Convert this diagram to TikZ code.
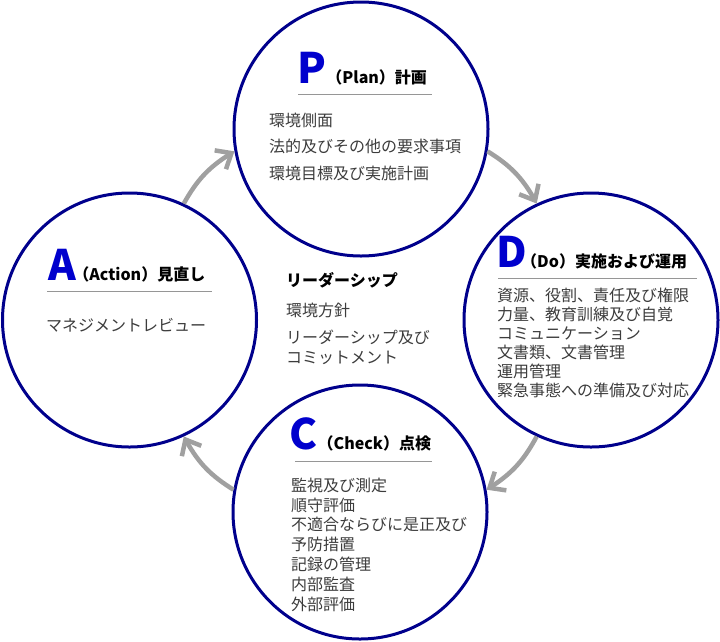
\documentclass[tikz,border=0pt]{standalone}
\usepackage{fontspec}
\setmainfont{Noto Sans CJK JP}
\usetikzlibrary{arrows.meta,bending,positioning}
\definecolor{pdcaNavy}{RGB}{0,0,140}
\definecolor{pdcaBlue}{RGB}{0,0,205}
\definecolor{pdcaText}{RGB}{60,60,60}
\definecolor{pdcaRule}{RGB}{150,150,150}
\definecolor{pdcaArrow}{RGB}{160,160,160}
\tikzset{
	phase/.style={circle,draw=pdcaNavy,line width=3pt,minimum size=254pt,inner sep=0pt},
	bigletter/.style={font=\fontsize{42}{42}\selectfont\bfseries,text=pdcaBlue,inner sep=0pt,anchor=base west},
	phasetitle/.style={font=\fontsize{16}{16}\selectfont\bfseries,inner sep=0pt,anchor=base west},
	itemlist/.style={font=\fontsize{16}{#1}\selectfont,text=pdcaText,align=left,inner sep=0pt,anchor=base west},
	titlerule/.style={draw=pdcaRule,line width=1pt},
	cyclearrow/.style={draw=pdcaArrow,line width=4.5pt,-{Straight Barb[length=13pt,width=22pt,flex]}}
}
\begin{document}
\begin{tikzpicture}[x=1pt,y=-1pt]
	\useasboundingbox (0,0) rectangle (720,641);
	
	\node[phase] (P) at (361,129) {};
	\node[phase] (D) at (591,320) {};
	\node[phase] (C) at (360,512) {};
	\node[phase] (A) at (129.5,320) {};
	
	% P (base = last line)
	\node[bigletter] (Pl) at (297,83) {P};
	\node[phasetitle,right=0pt of Pl.base east,anchor=base west] (Pt) {（Plan）計画};
	\draw[titlerule] (298,94) -- (432,94);
	\node[itemlist=26.5] (Pb) at (269,179) {環境側面\\法的及びその他の要求事項\\環境目標及び実施計画};
	
	% D
	\node[bigletter] (Dl) at (496,267) {D};
	\node[phasetitle,right=-6pt of Dl.base east,anchor=base west] (Dt) {（Do）実施および運用};
	\draw[titlerule] (498,278) -- (697,278);
	\node[itemlist=19] (Db) at (497,396) {資源、役割、責任及び権限\\力量、教育訓練及び自覚\\コミュニケーション\\文書類、文書管理\\運用管理\\緊急事態への準備及び対応};
	
	% C
	\node[bigletter] (Cl) at (289,449) {C};
	\node[phasetitle,right=0pt of Cl.base east,anchor=base west] (Ct) {（Check）点検};
	\draw[titlerule] (295,461) -- (432,461);
	\node[itemlist=19.8] (Cb) at (291,610) {監視及び測定\\順守評価\\不適合ならびに是正及び\\予防措置\\記録の管理\\内部監査\\外部評価};
	
	% A
	\node[bigletter] (Al) at (48,280) {A};
	\node[phasetitle,right=-3pt of Al.base east,anchor=base west] (At) {（Action）見直し};
	\draw[titlerule] (47,291) -- (212,291);
	\node[itemlist=19] (Ab) at (46,331) {マネジメントレビュー};
	
	% center
	\node[phasetitle] (Lt) at (286,286) {リーダーシップ};
	\node[itemlist=19] (Lb) at (286,316) {環境方針};
	\node[itemlist=20] (Lc) at (286,363) {リーダーシップ及び\\コミットメント};
	
	\draw[cyclearrow] (A.65) to[bend left=15] (P.190);
	\draw[cyclearrow] (P.350) to[bend left=15] (D.115);
	\draw[cyclearrow] (D.245) to[bend left=15] (C.10);
	\draw[cyclearrow] (C.170) to[bend left=15] (A.295);
\end{tikzpicture}
\end{document}
